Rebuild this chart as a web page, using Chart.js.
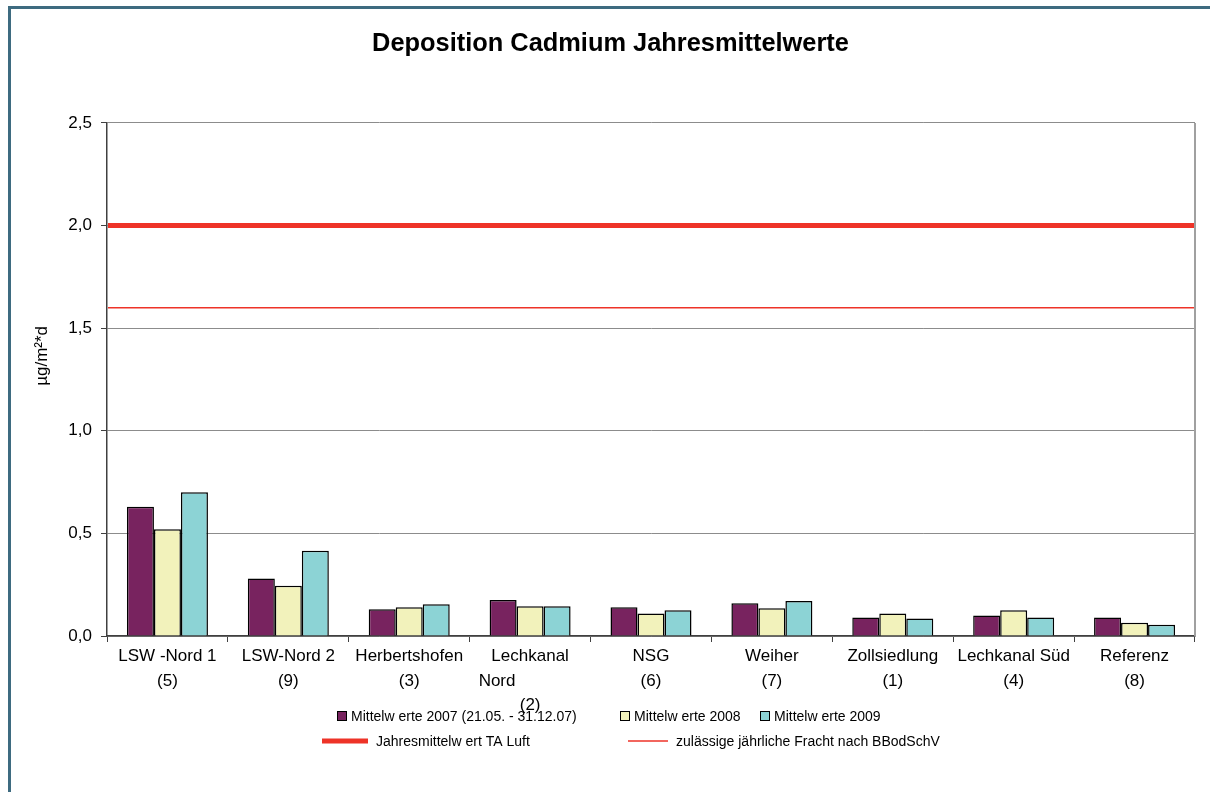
<!DOCTYPE html>
<html>
<head>
<meta charset="utf-8">
<script src="https://cdn.jsdelivr.net/npm/chart.js@4.4.1/dist/chart.umd.min.js"></script>
<style>
  html, body { margin: 0; padding: 0; background: #ffffff; }
  #wrap { position: relative; width: 1210px; height: 792px; }
</style>
</head>
<body>
<div id="wrap"><canvas id="c"></canvas></div>
<script>
// ---- data ----
const categories = [
  ["LSW -Nord 1", "(5)"],
  ["LSW-Nord 2", "(9)"],
  ["Herbertshofen", "(3)"],
  ["Lechkanal", "Nord              ", "(2)"],
  ["NSG", "(6)"],
  ["Weiher", "(7)"],
  ["Zollsiedlung", "(1)"],
  ["Lechkanal Süd", "(4)"],
  ["Referenz", "(8)"]
];
const seriesLabels = [
  "Mittelw erte 2007 (21.05. - 31.12.07)",
  "Mittelw erte 2008",
  "Mittelw erte 2009"
];
const values2007 = [0.63, 0.28, 0.13, 0.175, 0.14, 0.16, 0.09, 0.10, 0.09];
const values2008 = [0.52, 0.245, 0.14, 0.145, 0.11, 0.135, 0.11, 0.125, 0.065];
const values2009 = [0.70, 0.415, 0.155, 0.145, 0.125, 0.17, 0.085, 0.09, 0.055];
const limitLabels = ["Jahresmittelw ert TA Luft", "zulässige jährliche Fracht nach BBodSchV"];
const limitValues = [2.0, 1.6];
const yTickLabels = ["0,0", "0,5", "1,0", "1,5", "2,0", "2,5"];
const titleText = "Deposition Cadmium Jahresmittelwerte";
const yAxisTitle = "µg/m²*d";

// ---- styles ----
const barColors = ["#78235F", "#F2F2BB", "#8CD3D5"];
const limitColor = "#EE3328";
const limitWidths = [5, 1.5];

const framePlugin = {
  id: 'frame',
  beforeDraw(chart) {
    const ctx = chart.ctx;
    ctx.save();
    ctx.fillStyle = '#ffffff';
    ctx.fillRect(0, 0, chart.width, chart.height);
    ctx.fillStyle = '#3E6B80';
    ctx.fillRect(8, 6, 3, chart.height - 6);
    ctx.fillRect(8, 6, chart.width - 8, 3);
    ctx.restore();
  },
  afterDatasetsDraw(chart) {
    const ctx = chart.ctx, a = chart.chartArea;
    const y = chart.scales.y;
    ctx.save();
    limitValues.forEach((v, i) => {
      const py = y.getPixelForValue(v);
      ctx.strokeStyle = limitColor;
      ctx.lineWidth = limitWidths[i];
      ctx.beginPath();
      ctx.moveTo(a.left + 1, py);
      ctx.lineTo(a.right, py);
      ctx.stroke();
    });
    ctx.strokeStyle = '#A0A0A0';
    ctx.lineWidth = 2;
    ctx.beginPath();
    ctx.moveTo(a.right, a.top);
    ctx.lineTo(a.right, a.bottom);
    ctx.stroke();
    ctx.restore();
  }
};

const legendPlugin = {
  id: 'customLegend',
  afterDraw(chart) {
    const ctx = chart.ctx;
    const ds = chart.data.datasets;
    ctx.save();
    ctx.font = '14px "Liberation Sans", Arial, sans-serif';
    ctx.textBaseline = 'middle';
    ctx.textAlign = 'left';
    const row1 = [337, 620, 760];
    const y1 = 716;
    for (let i = 0; i < ds.length; i++) {
      const x = row1[i];
      ctx.fillStyle = ds[i].backgroundColor;
      ctx.fillRect(x, y1 - 5, 10, 10);
      ctx.strokeStyle = '#000';
      ctx.lineWidth = 1;
      ctx.strokeRect(x + 0.5, y1 - 4.5, 9, 9);
      ctx.fillStyle = '#000';
      ctx.fillText(ds[i].label, x + 14, y1 + 1);
    }
    const y2 = 741;
    const row2 = [{ x: 322, len: 46 }, { x: 628, len: 40 }];
    row2.forEach((l, i) => {
      ctx.strokeStyle = limitColor;
      ctx.lineWidth = limitWidths[i];
      ctx.beginPath();
      ctx.moveTo(l.x, y2);
      ctx.lineTo(l.x + l.len, y2);
      ctx.stroke();
      ctx.fillStyle = '#000';
      ctx.fillText(limitLabels[i], l.x + l.len + 8, y2 + 1);
    });
    ctx.restore();
  }
};

Chart.defaults.font.family = '"Liberation Sans", Arial, sans-serif';
Chart.defaults.color = '#000';

new Chart(document.getElementById('c'), {
  type: 'bar',
  data: {
    labels: categories,
    datasets: [
      { label: seriesLabels[0], data: values2007, backgroundColor: barColors[0], borderColor: '#000', borderWidth: 1.5, categoryPercentage: 0.67, barPercentage: 1.0 },
      { label: seriesLabels[1], data: values2008, backgroundColor: barColors[1], borderColor: '#000', borderWidth: 1.5, categoryPercentage: 0.67, barPercentage: 1.0 },
      { label: seriesLabels[2], data: values2009, backgroundColor: barColors[2], borderColor: '#000', borderWidth: 1.5, categoryPercentage: 0.67, barPercentage: 1.0 }
    ]
  },
  options: {
    responsive: true,
    maintainAspectRatio: false,
    animation: false,
    layout: { padding: { left: 26, right: 15, top: 0, bottom: 76 } },
    plugins: {
      legend: { display: false },
      tooltip: { enabled: false },
      title: {
        display: true,
        text: titleText,
        font: { size: 25.4, weight: 'bold', lineHeight: 1.2 },
        padding: { top: 29, bottom: 63.5 },
        color: '#000'
      }
    },
    scales: {
      x: {
        type: 'category',
        offset: true,
        grid: { display: true, drawOnChartArea: false, offset: true, tickLength: 6, tickColor: '#404040', tickWidth: 1 },
        border: { display: true, color: '#404040', width: 1.5 },
        ticks: { font: { size: 17, lineHeight: 1.45 }, padding: 2, maxRotation: 0, autoSkip: false, color: '#000' },
        afterFit(s) { s.height = 80; }
      },
      y: {
        min: 0, max: 2.5,
        ticks: {
          stepSize: 0.5, padding: 9, font: { size: 17 }, color: '#000',
          callback: (v, i) => yTickLabels[i]
        },
        grid: { color: '#8C8C8C', lineWidth: 1, tickLength: 6, tickColor: '#404040' },
        border: { display: true, color: '#404040', width: 1.5 },
        title: {
          display: true,
          text: '          ' + yAxisTitle,
          font: { size: 17 },
          padding: { top: 6, bottom: 0 },
          color: '#000'
        },
        afterFit(s) { s.width = 81; }
      }
    }
  },
  plugins: [framePlugin, legendPlugin]
});
</script>
</body>
</html>
